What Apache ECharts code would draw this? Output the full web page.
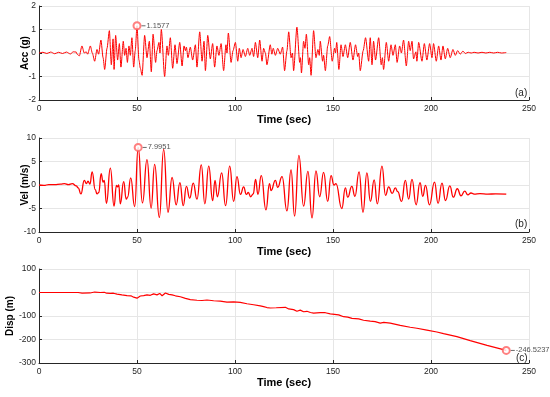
<!DOCTYPE html>
<html>
<head>
<meta charset="utf-8">
<script src="https://cdn.jsdelivr.net/npm/echarts@6/dist/echarts.min.js"></script>
<style>html,body{margin:0;padding:0;background:#fff}#c{width:550px;height:397px}</style>
</head>
<body>
<div id="c"></div>
<script>
// ---- data: [time (sec), value] ----
const accData = [[0,0],[2,0.03],[4,-0.02],[6,0.04],[8,-0.03],[10,0.03],[12,-0.02],[14,0.04],[16,-0.04],[17.5,0.05],[19,0.04],[19.4,-0.05],[20.6,-0.12],[21.9,0.3],[23.1,0.0],[24.1,0.05],[24.8,-0.05],[26.2,0.3],[27.2,0.0],[28.4,-0.35],[29.6,0.15],[30.4,-0.05],[31.6,0.55],[32.7,-0.2],[33.5,-0.7],[34.7,0.2],[35.9,0.95],[36.9,-0.5],[37.8,0.6],[38.3,-0.7],[39.1,0.75],[40.1,-0.3],[41.0,0.4],[41.8,-0.6],[43.0,0.5],[43.7,-0.1],[44.4,0.2],[45.1,-0.4],[45.9,0.3],[46.6,-0.1],[47.4,0.65],[48.3,-0.6],[49.1,0.1],[50.0,1.1577],[51.0,-0.3],[51.7,-0.65],[52.6,-0.95],[53.9,0.75],[55.1,-0.2],[56.3,0.5],[57.3,-0.8],[58.2,0.8],[59.5,-0.4],[60.2,0.1],[61.2,0.45],[61.7,0.0],[62.4,1.0],[64.1,-1.0],[65.3,0.3],[66.0,-0.1],[67.0,0.65],[68.2,-0.65],[69.4,0.35],[70.4,-0.45],[71.8,0.45],[73.0,-0.55],[74.0,0.3],[74.7,0.1],[75.2,0.25],[76.0,-0.2],[77.2,0.25],[78.4,-0.3],[79.8,0.35],[80.6,-0.6],[82.0,0.9],[83.2,-0.35],[84.2,0.5],[84.9,-0.75],[86.1,0.75],[87.4,-0.25],[88.6,0.4],[89.6,-0.6],[90.8,0.3],[91.8,-0.1],[92.9,0.4],[94.2,-0.75],[95.4,0.35],[95.9,0.0],[96.6,0.85],[98.0,-0.4],[99.0,0.1],[100.2,0.45],[101.4,-0.35],[102.2,0.2],[103.1,-0.2],[104.1,0.15],[105.3,-0.15],[106.5,0.2],[107.5,-0.1],[108.7,0.2],[109.5,-0.15],[110.4,0.45],[111.6,-0.2],[112.6,0.55],[113.8,-0.35],[114.6,0.2],[115.5,0.0],[116.3,-0.5],[118.0,0.35],[118.8,-0.05],[119.5,0.2],[120.6,-0.1],[121.8,0.2],[123.1,-0.05],[124.3,0.25],[125.3,-0.75],[126.5,0.1],[127.4,0.9],[128.6,-0.2],[129.3,0.0],[129.9,-0.75],[131.6,1.1],[133.0,-0.4],[133.4,-0.2],[133.9,-0.85],[135.0,0.5],[135.7,0.2],[136.4,0.8],[137.6,-0.5],[138.1,-0.2],[138.8,-0.95],[140.1,0.95],[141.3,-0.2],[142.3,0.15],[143.0,-0.1],[143.5,0.5],[144.7,-0.35],[145.2,-0.1],[146.1,-0.75],[147.3,0.3],[148.3,0.7],[149.6,-0.35],[150.8,0.2],[151.3,0.0],[151.9,0.45],[153.0,-0.7],[154.1,0.35],[155.1,-0.15],[156.3,0.35],[157.5,-0.2],[158.8,0.45],[160.2,-0.3],[161.5,0.35],[162.6,-0.15],[163.1,0.0],[163.9,-0.75],[165.4,0.1],[166.6,0.65],[168.2,-0.35],[169.0,0.65],[169.9,-0.5],[170.7,0.5],[171.7,-0.3],[173.3,0.65],[174.6,-0.5],[175.2,-0.2],[175.8,-0.7],[177.2,0.45],[178.4,-0.35],[179.6,0.35],[180.6,-0.1],[181.8,0.35],[182.7,-0.4],[184.0,0.3],[184.9,0.0],[186.0,0.55],[187.4,-0.55],[188.6,0.5],[189.4,0.1],[190.3,0.5],[191.1,-0.25],[192.3,0.05],[192.8,-0.35],[193.7,0.45],[195.4,-0.35],[196.6,0.4],[197.9,-0.3],[199.3,0.4],[200.5,-0.2],[201.3,0.4],[202.7,-0.35],[203.9,0.3],[205.1,-0.3],[206.1,0.3],[207.3,-0.25],[208.5,0.2],[209.8,-0.2],[211.2,0.15],[212.4,-0.1],[213.6,0.1],[214.9,-0.05],[216.3,0.08],[217.5,-0.02],[219,0.03],[220.5,0.0],[222,0.03],[224,0.0],[226,0.03],[228,0.0],[230,0.03],[232,0.0],[234,0.03],[236,0.0],[238.4,0.02]];

const velData = [[0,0.0],[2.5,-0.1],[5,0.1],[8,0.1],[11,0.2],[13,0.3],[15,0.1],[17,0.3],[19,-0.2],[20,-0.6],[21.4,-1.9],[23.1,1.0],[24.2,0.3],[25.0,0.8],[26.0,0.2],[27.1,2.8],[28.7,-1.0],[29.6,-1.9],[30.5,-1.6],[31.7,2.4],[32.7,0.6],[33.3,1.0],[34.4,-3.9],[36.4,3.6],[38.3,-4.5],[39.5,-0.1],[40.1,-0.4],[40.7,0.0],[41.5,-4.0],[43.2,0.7],[44.5,-3.0],[45.2,-2.6],[46.8,1.5],[48.8,-4.6],[50.6,7.9951],[52.8,-3.8],[55.1,5.4],[57.2,-4.9],[59.0,4.4],[61.4,-6.9],[63.6,7.6],[65.8,-5.8],[67.9,1.6],[70.0,-4.2],[71.9,0.5],[73.6,-4.4],[75.2,-0.3],[76.9,-2.8],[78.7,0.4],[80.6,-3.0],[82.8,4.3],[84.6,-4.0],[86.6,4.0],[88.6,-3.3],[89.8,1.0],[91.0,-2.5],[93.2,2.6],[95.2,-4.4],[97.3,4.0],[99.3,-3.5],[101.0,1.8],[102.8,-2.0],[104.4,-0.4],[105.8,-2.0],[106.8,-1.6],[108.0,-2.5],[109.3,-1.9],[110.5,1.2],[111.7,-2.0],[113.4,2.0],[115.8,-5.3],[117.6,0.3],[118.4,-1.2],[120.6,1.0],[121.8,-0.5],[124.0,1.8],[126.5,-5.5],[128.6,3.2],[130.4,-6.6],[132.6,6.3],[135.0,-4.5],[137.2,2.9],[139.3,-7.0],[141.3,3.0],[143.2,-2.5],[145.2,2.7],[147.3,-3.5],[149.0,2.0],[150.5,0.0],[151.5,0.3],[154.5,-5.0],[156.3,-0.6],[157.5,-2.6],[159.6,-0.3],[161.2,-2.4],[163.3,2.8],[165.3,-5.8],[167.3,2.6],[169.1,-3.5],[171.0,1.1],[172.6,-4.0],[175.0,4.0],[176.8,-2.2],[178.4,-0.4],[180.2,-1.8],[181.8,-0.6],[183.0,-1.4],[185.0,-3.5],[186.9,1.0],[188.6,-3.0],[190.3,1.2],[192.4,-4.2],[194.4,0.5],[195.8,-2.4],[197.2,-0.1],[199.2,-4.2],[201.8,0.6],[203.6,-3.9],[205.6,0.4],[207.4,-3.3],[209.6,-0.2],[211.4,-2.6],[213.4,-0.8],[215.3,-2.3],[217.2,-1.3],[218.8,-2.1],[220.4,-1.7],[222,-1.95],[225,-1.85],[229,-1.95],[233,-1.88],[238.4,-1.95]];

const dispData = [[0,0],[20,0],[22,-3],[26,-2],[28.4,2],[31.3,0],[33.3,1],[34.5,-3],[36.4,-4],[38,-3],[39.8,-7],[42.3,-10],[44.9,-13],[46.9,-14],[48.3,-20],[50,-24],[51.7,-15],[53.4,-13],[55.1,-10],[56.8,-12],[58.5,-6],[60.2,-10],[61.6,-4],[62.8,-14],[64.5,-2],[66.2,-8],[67.9,-10],[69.6,-14],[72.1,-18],[74.7,-25],[77.2,-30],[80.6,-33],[83.2,-34],[85.7,-32],[89.1,-35],[92.5,-37],[95.9,-41],[99.3,-40],[102.7,-42],[106.1,-48],[109.5,-52],[112.9,-57],[114.6,-60],[116.3,-64],[118,-66],[121,-65],[125.7,-63],[127.4,-70],[129.9,-73],[131.6,-80],[133.3,-75],[135,-82],[136.7,-80],[138.5,-85],[140.1,-88],[143.5,-86],[146.1,-86],[148.6,-91],[152.9,-95],[155.4,-103],[157.5,-105],[159.7,-110],[163.1,-112],[165.6,-118],[169,-122],[171.5,-124],[174.1,-130],[175.9,-127],[179.2,-130],[184.3,-140],[189.4,-148],[192.8,-152],[197.9,-160],[203,-168],[206.4,-175],[213.2,-188],[220,-205],[228.6,-225],[238.4,-246.5237]];

// annotated points (datatips)
const accTip = [50.0, 1.1577];
const velTip = [50.6, 7.9951];
const dispTip = [238.4, -246.5237];

// axis ticks
const xTicks = {min: 0, max: 250, interval: 50};
const accTicks = {min: -2, max: 2, interval: 1};
const velTicks = {min: -10, max: 10, interval: 5};
const dispTicks = {min: -300, max: 100, interval: 100};

const xName = 'Time (sec)';
const yNames = ['Acc (g)', 'Vel (m/s)', 'Disp (m)'];
const panelLabels = ['(a)', '(b)', '(c)'];

// ---- chart ----
const FONT = '"Liberation Sans", Arial, Helvetica, sans-serif';
const AX = '#262626';

function makeX(i) {
  return {
    gridIndex: i, type: 'value', min: xTicks.min, max: xTicks.max, interval: xTicks.interval,
    name: xName, nameLocation: 'middle', nameGap: 14, nameMoveOverlap: false,
    nameTextStyle: {fontSize: 11, fontWeight: 'bold', color: '#000', fontFamily: FONT},
    axisLine: {show: true, onZero: false, lineStyle: {color: AX, width: 1}},
    axisTick: {show: true, inside: true, length: 3, lineStyle: {color: AX}},
    axisLabel: {fontSize: 8.5, color: AX, margin: 4, fontFamily: FONT},
    splitLine: {show: true, lineStyle: {color: '#e6e6e6', width: 1}}
  };
}
function makeY(i, t, name, gap) {
  return {
    gridIndex: i, type: 'value', min: t.min, max: t.max, interval: t.interval,
    name: name, nameLocation: 'middle', nameGap: gap, nameRotate: 90, nameMoveOverlap: false,
    nameTextStyle: {fontSize: 10, fontWeight: 'bold', color: '#000', fontFamily: FONT},
    axisLine: {show: true, onZero: false, lineStyle: {color: AX, width: 1}},
    axisTick: {show: true, inside: true, length: 3, lineStyle: {color: AX}},
    axisLabel: {fontSize: 8.5, color: AX, margin: 3, fontFamily: FONT},
    splitLine: {show: true, lineStyle: {color: '#e6e6e6', width: 1}}
  };
}
function lineSeries(i, data, smooth, w) {
  return {
    type: 'line', xAxisIndex: i, yAxisIndex: i, data: data, showSymbol: false,
    smooth: smooth, smoothMonotone: 'x', lineStyle: {color: '#ff0000', width: w}, silent: true, z: 2
  };
}
function tipSeries(i, pt) {
  return {
    type: 'scatter', xAxisIndex: i, yAxisIndex: i, data: [pt], symbol: 'emptyCircle', symbolSize: 7,
    itemStyle: {color: '#ff6060', borderWidth: 1}, z: 5,
    label: {
      show: true, position: 'right', distance: 0,
      formatter: function (p) { return '{ln| }{t|' + p.value[1].toFixed(4) + '}'; },
      rich: {
        ln: {width: 4, height: 1, backgroundColor: '#444', verticalAlign: 'middle'},
        t: {fontSize: 7.5, color: '#262626', fontFamily: FONT, padding: [0, 0, 0, 1]}
      }
    }
  };
}

const gridBase = {left: 39, width: 490, height: 94, outerBoundsMode: 'none', containLabel: false};
const chart = echarts.init(document.getElementById('c'), null, {renderer: 'canvas'});
chart.setOption({
  animation: false,
  backgroundColor: '#fff',
  grid: [
    Object.assign({}, gridBase, {top: 6}),
    Object.assign({}, gridBase, {top: 138}),
    Object.assign({}, gridBase, {top: 269})
  ],
  xAxis: [makeX(0), makeX(1), makeX(2)],
  yAxis: [makeY(0, accTicks, yNames[0], 9), makeY(1, velTicks, yNames[1], 9), makeY(2, dispTicks, yNames[2], 24)],
  series: [
    lineSeries(0, accData, 0.25, 1),
    lineSeries(1, velData, 0.5, 1.3),
    lineSeries(2, dispData, false, 1.2),
    tipSeries(0, accTip),
    tipSeries(1, velTip),
    tipSeries(2, dispTip)
  ],
  graphic: [
    {type: 'text', left: 515, top: 88, style: {text: panelLabels[0], fontSize: 10, fill: AX, fontFamily: FONT}},
    {type: 'text', left: 515, top: 219, style: {text: panelLabels[1], fontSize: 10, fill: AX, fontFamily: FONT}},
    {type: 'text', left: 516, top: 353, style: {text: panelLabels[2], fontSize: 10, fill: AX, fontFamily: FONT}}
  ]
});
</script>
</body>
</html>
